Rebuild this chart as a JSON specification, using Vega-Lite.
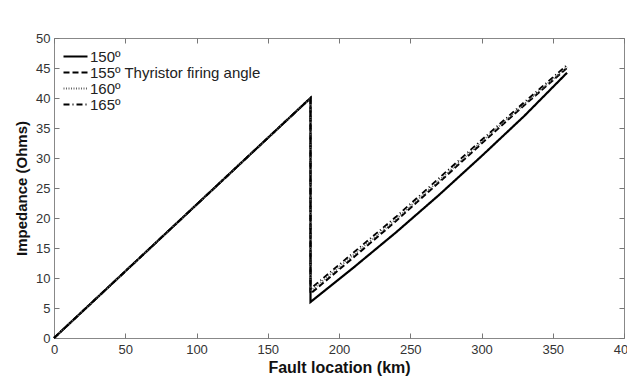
{
  "$schema": "https://vega.github.io/schema/vega-lite/v6.json",
  "width": 570,
  "height": 300,
  "autosize": {"type": "none"},
  "padding": {"left": 54, "top": 38, "right": 3, "bottom": 38},
  "background": "white",
  "config": {
    "font": "Liberation Sans",
    "view": {"stroke": "#888", "strokeWidth": 1},
    "axis": {
      "domain": false,
      "tickColor": "#777",
      "ticks": true,
      "tickSize": 5,
      "offset": -5,
      "grid": false,
      "labelFont": "Liberation Sans",
      "labelFontSize": 13,
      "labelColor": "#333",
      "titleFont": "Liberation Sans",
      "titleFontSize": 15,
      "titleFontWeight": "bold",
      "titleColor": "#111"
    },
    "legend": {
      "symbolType": "M-2,0H2",
      "symbolSize": 144,
      "labelFontSize": 15,
      "labelLimit": 400,
      "labelColor": "#222",
      "labelOffset": 7,
      "rowPadding": -1
    }
  },
  "resolve": {"scale": {"x": "independent", "y": "independent"}},
  "data": {
    "values": [
      {"s": "150º", "seq": 1, "x": 0, "y": 0},
      {"s": "150º", "seq": 2, "x": 180, "y": 40},
      {"s": "150º", "seq": 3, "x": 180, "y": 6},
      {"s": "150º", "seq": 4, "x": 210, "y": 11.7},
      {"s": "150º", "seq": 5, "x": 240, "y": 17.6},
      {"s": "150º", "seq": 6, "x": 270, "y": 23.8},
      {"s": "150º", "seq": 7, "x": 300, "y": 30.3},
      {"s": "150º", "seq": 8, "x": 330, "y": 37},
      {"s": "150º", "seq": 9, "x": 360, "y": 44.2},
      {"s": "155º", "seq": 1, "x": 0, "y": 0},
      {"s": "155º", "seq": 2, "x": 180, "y": 40},
      {"s": "155º", "seq": 3, "x": 180, "y": 7.4},
      {"s": "155º", "seq": 4, "x": 210, "y": 13.4},
      {"s": "155º", "seq": 5, "x": 240, "y": 19.5},
      {"s": "155º", "seq": 6, "x": 270, "y": 25.9},
      {"s": "155º", "seq": 7, "x": 300, "y": 32.4},
      {"s": "155º", "seq": 8, "x": 330, "y": 38.8},
      {"s": "155º", "seq": 9, "x": 360, "y": 45},
      {"s": "160º", "seq": 1, "x": 0, "y": 0},
      {"s": "160º", "seq": 2, "x": 180, "y": 40},
      {"s": "160º", "seq": 3, "x": 180, "y": 7.8},
      {"s": "160º", "seq": 4, "x": 210, "y": 13.8},
      {"s": "160º", "seq": 5, "x": 240, "y": 19.8},
      {"s": "160º", "seq": 6, "x": 270, "y": 26.2},
      {"s": "160º", "seq": 7, "x": 300, "y": 32.7},
      {"s": "160º", "seq": 8, "x": 330, "y": 39},
      {"s": "160º", "seq": 9, "x": 360, "y": 45.2},
      {"s": "165º", "seq": 1, "x": 0, "y": 0},
      {"s": "165º", "seq": 2, "x": 180, "y": 40},
      {"s": "165º", "seq": 3, "x": 180, "y": 8.2},
      {"s": "165º", "seq": 4, "x": 210, "y": 14.2},
      {"s": "165º", "seq": 5, "x": 240, "y": 20.2},
      {"s": "165º", "seq": 6, "x": 270, "y": 26.6},
      {"s": "165º", "seq": 7, "x": 300, "y": 33},
      {"s": "165º", "seq": 8, "x": 330, "y": 39.3},
      {"s": "165º", "seq": 9, "x": 360, "y": 45.5}
    ]
  },
  "layer": [
    {
      "mark": {"type": "line", "strokeJoin": "miter"},
      "encoding": {
        "x": {"field": "x", "type": "quantitative", "scale": {"domain": [0, 400], "nice": false},
              "axis": {"orient": "bottom", "title": "Fault location (km)", "titleFontSize": 16, "values": [0,50,100,150,200,250,300,350,400], "labelPadding": 5, "labelFlush": false, "titlePadding": 3}},
        "y": {"field": "y", "type": "quantitative", "scale": {"domain": [0, 50], "nice": false},
              "axis": {"orient": "left", "title": "Impedance (Ohms)", "values": [0,5,10,15,20,25,30,35,40,45,50], "labelPadding": 4, "labelFlush": false, "titlePadding": 6}},
        "order": {"field": "seq"},
        "strokeDash": {
          "field": "s", "type": "nominal",
          "scale": {"domain": ["150º", "155º", "160º", "165º"], "range": [[1, 0], [6, 3], [1, 1.5], [6, 3, 1, 3]]},
          "legend": {
            "title": null,
            "orient": "none", "legendX": 14, "legendY": 11,
            "labelExpr": "datum.label == '155º' ? '155º Thyristor firing angle' : datum.label"
          }
        },
        "color": {
          "field": "s", "type": "nominal",
          "scale": {"domain": ["150º", "155º", "160º", "165º"], "range": ["#000", "#000", "#666", "#000"]},
          "legend": {
            "title": null,
            "orient": "none", "legendX": 14, "legendY": 11,
            "labelExpr": "datum.label == '155º' ? '155º Thyristor firing angle' : datum.label"
          }
        },
        "strokeWidth": {
          "field": "s", "type": "nominal",
          "scale": {"domain": ["150º", "155º", "160º", "165º"], "range": [2.2, 1.8, 1.2, 1.6]},
          "legend": {
            "title": null,
            "orient": "none", "legendX": 14, "legendY": 11,
            "labelExpr": "datum.label == '155º' ? '155º Thyristor firing angle' : datum.label"
          }
        }
      }
    },
    {
      "mark": {"type": "line", "strokeOpacity": 0},
      "encoding": {
        "x": {"field": "x", "type": "quantitative", "scale": {"domain": [0, 400], "nice": false},
              "axis": {"orient": "top", "labels": false, "title": null, "values": [0,50,100,150,200,250,300,350,400]}},
        "y": {"field": "y", "type": "quantitative", "scale": {"domain": [0, 50], "nice": false},
              "axis": {"orient": "right", "labels": false, "title": null, "values": [0,5,10,15,20,25,30,35,40,45,50]}},
        "detail": {"field": "s"},
        "order": {"field": "seq"}
      }
    }
  ]
}
